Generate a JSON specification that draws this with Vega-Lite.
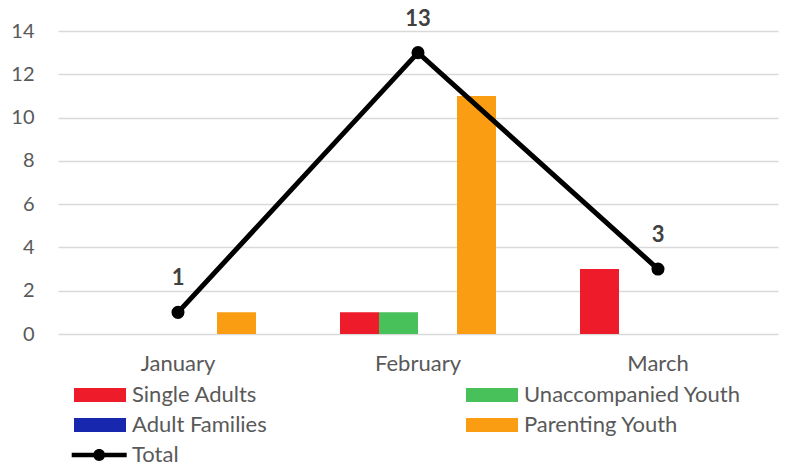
{
  "$schema": "https://vega.github.io/schema/vega-lite/v6.json",
  "width": 720,
  "height": 303,
  "autosize": "none",
  "padding": {"left": 58, "top": 31, "right": 8, "bottom": 137},
  "background": "white",
  "config": {"view": {"stroke": null}, "font": "Lato"},
  "datasets": {
    "bars": [
      {"month": "January", "series": "Parenting Youth", "value": 1},
      {"month": "February", "series": "Single Adults", "value": 1},
      {"month": "February", "series": "Unaccompanied Youth", "value": 1},
      {"month": "February", "series": "Parenting Youth", "value": 11},
      {"month": "March", "series": "Single Adults", "value": 3}
    ],
    "total": [
      {"month": "January", "value": 1},
      {"month": "February", "value": 13},
      {"month": "March", "value": 3}
    ]
  },
  "layer": [
    {
      "data": {"name": "bars"},
      "mark": {"type": "bar"},
      "encoding": {
        "x": {
          "field": "month", "type": "nominal",
          "sort": ["January", "February", "March"],
          "scale": {"paddingInner": 0.35, "paddingOuter": 0.175},
          "axis": {"title": null, "labelAngle": 0, "domain": false, "ticks": false, "labelPadding": 19, "labelFontSize": 22, "labelColor": "#595959", "labelFont": "Lato"}
        },
        "xOffset": {
          "field": "series", "type": "nominal",
          "scale": {"domain": ["Single Adults", "Unaccompanied Youth", "Adult Families", "Parenting Youth"], "paddingInner": 0, "paddingOuter": 0}
        },
        "y": {
          "field": "value", "type": "quantitative",
          "scale": {"domain": [0, 14]},
          "axis": {"title": null, "values": [0, 2, 4, 6, 8, 10, 12, 14], "grid": true, "gridColor": "#d9d9d9", "gridWidth": 1.5, "domain": false, "ticks": false, "labelPadding": 24, "labelFontSize": 20, "labelColor": "#595959", "labelFont": "Lato"}
        },
        "color": {
          "field": "series", "type": "nominal",
          "scale": {
            "domain": ["Single Adults", "Unaccompanied Youth", "Adult Families", "Parenting Youth", "Total"],
            "range": ["#EE1C2B", "#48C15B", "#1727AE", "#FB9D12", "#000000"]
          },
          "legend": {
            "title": null,
            "orient": "none",
            "direction": "horizontal",
            "legendX": 12,
            "legendY": 353,
            "columns": 2,
            "gridAlign": "all",
            "padding": 0,
            "symbolSize": 196,
            "symbolType": "M-1,-1H6.43V1H-1Z",
            "labelOffset": 40,
            "labelLimit": 400,
            "columnPadding": 113,
            "rowPadding": 8,
            "labelFontSize": 22,
            "labelColor": "#595959",
            "labelFont": "Lato",
            "encode": {
              "symbols": {
                "update": {
                  "shape": {"signal": "datum.value === 'Total' ? 'M-1.33,-0.32H6.53V0.32H-1.33Z M3.45,0A0.85,0.85 0 1,1 1.75,0A0.85,0.85 0 1,1 3.45,0Z' : 'M-1,-1H6.43V1H-1Z'"}
                }
              }
            }
          }
        }
      }
    },
    {
      "data": {"name": "total"},
      "mark": {"type": "line", "color": "black", "strokeWidth": 5, "point": {"size": 170, "filled": true, "color": "black", "opacity": 1}},
      "encoding": {
        "x": {"field": "month", "type": "nominal", "sort": ["January", "February", "March"]},
        "y": {"field": "value", "type": "quantitative"}
      }
    },
    {
      "data": {"name": "total"},
      "mark": {"type": "text", "dy": -34, "fontWeight": "bold", "fontSize": 22, "color": "#404040", "font": "Lato"},
      "encoding": {
        "x": {"field": "month", "type": "nominal", "sort": ["January", "February", "March"]},
        "y": {"field": "value", "type": "quantitative"},
        "text": {"field": "value", "type": "quantitative"}
      }
    }
  ]
}
